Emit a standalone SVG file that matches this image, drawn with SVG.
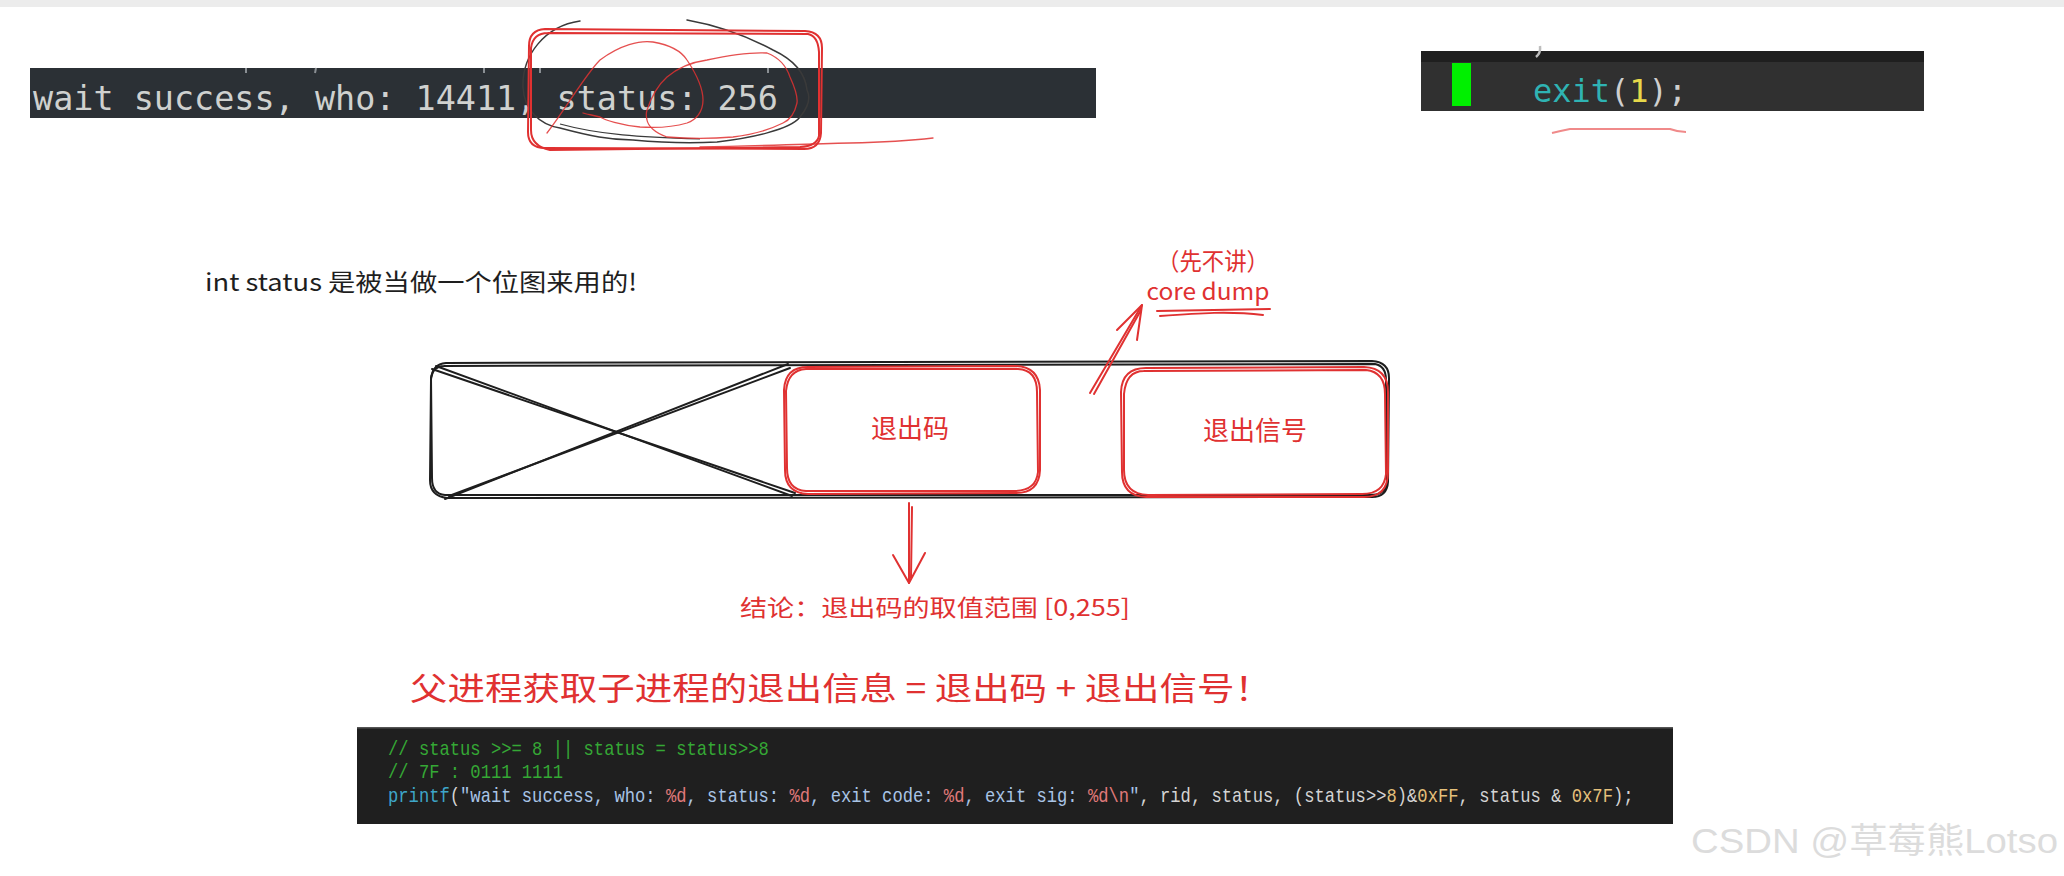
<svg xmlns="http://www.w3.org/2000/svg" width="2064" height="876" viewBox="0 0 2064 876">
<defs>
<style>
.sk{fill:none;stroke:#1e1e1e;stroke-width:2;stroke-linecap:round;stroke-linejoin:round}
.rd{fill:none;stroke:#e03131;stroke-width:2;stroke-linecap:round;stroke-linejoin:round}
.rdt{fill:none;stroke:#e03131;stroke-width:1.3;stroke-linecap:round;stroke-linejoin:round;opacity:0.85}
.hand{font-family:"Noto Sans CJK SC","Noto Sans",sans-serif}
.redtxt{fill:#e03131}
.mono{font-family:"DejaVu Sans Mono","Liberation Mono",monospace}
.code{font-family:"Liberation Mono","DejaVu Sans Mono",monospace;font-size:20px}
</style>
</defs>
<rect x="0" y="0" width="2064" height="876" fill="#ffffff"/>
<rect x="0" y="0" width="2064" height="7" fill="#ececec"/>

<g id="terminal-status">
<rect x="30" y="68" width="1066" height="50" fill="#2b3035"/>
<g stroke="#8a8f94" stroke-width="2">
<line x1="246" y1="68" x2="246" y2="73"/><line x1="316" y1="68" x2="315" y2="73"/><line x1="484" y1="68" x2="484" y2="73"/><line x1="540" y1="68" x2="540" y2="73"/><line x1="768" y1="68" x2="768" y2="73"/>
</g>
<text x="33" y="110" class="mono" font-size="34" fill="#cfd1cf" textLength="745" lengthAdjust="spacingAndGlyphs">wait success, who: 14411, status: 256</text>
</g>

<g id="scribble">
<path d="M580 21 C545 26 522 55 523 87 C524 110 540 125 560 128 C590 136 610 140 633 140 C665 143 700 143 717 142 C750 138 790 130 800 117 C810 105 810 96 807 90 C805 70 790 58 773 50 C745 35 715 25 687 20" fill="none" stroke="#3a3a3a" stroke-width="1.5" stroke-linecap="round"/>
<path d="M560 124 C600 135 640 137 700 139" fill="none" stroke="#3a3a3a" stroke-width="1.2"/>
<path d="M545 29 L805 31 Q822 32 822 48 L821 133 Q820 149 804 149 L545 148 Q528 148 528 132 L529 46 Q529 30 545 29 Z" class="rd" stroke-width="1.5"/>
<path d="M548 33 L808 34 Q818 36 819 52 L819 136 Q817 146 800 147 L550 150 Q531 146 531 130 L531 48 Q533 33 548 33" class="rd" stroke-width="1.2"/>
<path d="M547 133 C565 110 585 75 600 60 C620 45 640 40 653 42 C670 45 682 52 687 60 C697 75 703 90 703 100 C703 112 696 120 687 123 C670 128 655 128 640 127 C620 125 605 120 600 117 C592 115 586 114 583 113" class="rdt"/>
<path d="M647 110 C652 95 658 85 667 77 C680 66 693 62 707 60 C730 55 750 52 767 53 C780 58 787 68 790 77 C795 88 798 96 797 103 C795 112 790 120 783 123 C765 132 750 135 733 137 C710 139 690 139 667 137 C655 133 648 126 647 120 C646 116 646 113 647 110" class="rdt"/>
<path d="M700 147 C760 146 800 144 850 143 C890 142 915 140 933 138" class="rdt"/>
</g>

<g id="terminal-exit">
<rect x="1421" y="51" width="503" height="60" fill="#303030"/>
<rect x="1421" y="51" width="503" height="11" fill="#1f1f1f"/>
<path d="M1540 46 Q1541 53 1536 57" fill="none" stroke="#bdbdbd" stroke-width="2.5"/>
<rect x="1452" y="63" width="19" height="43" fill="#00f000"/>
<text x="1533" y="102" class="mono" font-size="32"><tspan fill="#2fb3b3">exit</tspan><tspan fill="#cfcfcf">(</tspan><tspan fill="#e6d84a">1</tspan><tspan fill="#cfcfcf">);</tspan></text>
<path d="M1552 133 Q1560 131 1570 129 L1670 129 Q1678 132 1686 132" fill="none" stroke="#f08a8a" stroke-width="2"/>
</g>

<g id="label-bitmap">
<text x="205" y="291" class="hand" font-size="24" fill="#1e1e1e" textLength="432" lengthAdjust="spacingAndGlyphs">int status 是被当做一个位图来用的!</text>
</g>

<g id="label-coredump">
<text x="1213" y="270" class="hand redtxt" font-size="24" text-anchor="middle" textLength="112" lengthAdjust="spacingAndGlyphs">（先不讲）</text>
<text x="1208" y="300" class="hand redtxt" font-size="23" text-anchor="middle" textLength="123" lengthAdjust="spacingAndGlyphs">core dump</text>
<path d="M1157 311 L1270 309" class="rd"/>
<path d="M1160 316 C1200 313 1230 311 1263 315" class="rd"/>
</g>

<g id="bitmap-bar">
<path d="M446 363 L1372 361 Q1389 362 1389 378 L1388 482 Q1387 497 1372 497 L447 498 Q430 496 430 480 L431 380 Q432 364 446 363 Z" class="sk"/>
<path d="M444 366 L1375 364 Q1386 366 1386 380 L1387 485 Q1384 495 1370 495 L445 495 Q432 494 432 478 L431 378 Q433 366 444 366" class="sk" stroke-width="1.3"/>
<path d="M432 369 L795 493" class="sk"/>
<path d="M436 366 L792 496" class="sk" stroke-width="1.3"/>
<path d="M445 499 L788 364" class="sk"/>
<path d="M449 496 L790 368" class="sk" stroke-width="1.3"/>
</g>

<g id="box-exit-code">
<path d="M808 367 L1016 366 Q1039 367 1040 390 L1040 470 Q1039 493 1016 493 L808 494 Q785 493 785 470 L784 390 Q785 367 808 367 Z" class="rd"/>
<path d="M806 369 L1018 369 Q1037 370 1037 392 L1038 472 Q1036 491 1014 491 L806 491 Q787 490 787 468 L786 391 Q788 370 806 369" class="rd" stroke-width="1.2"/>
<text x="910" y="438" class="hand redtxt" font-size="26" text-anchor="middle">退出码</text>
</g>

<g id="box-exit-signal">
<path d="M1146 368 L1364 367 Q1388 368 1388 392 L1388 472 Q1388 497 1364 497 L1146 497 Q1122 496 1122 472 L1121 392 Q1122 368 1146 368 Z" class="rd"/>
<path d="M1144 371 L1366 370 Q1385 372 1385 394 L1386 474 Q1384 494 1362 494 L1148 495 Q1124 494 1124 470 L1124 394 Q1126 371 1144 371" class="rd" stroke-width="1.2"/>
<text x="1255" y="440" class="hand redtxt" font-size="26" text-anchor="middle">退出信号</text>
</g>

<g id="connectors">
<path d="M1090 393 L1142 305" class="rd" stroke-width="2.5"/>
<path d="M1094 394 L1141 310" class="rd" stroke-width="1.5"/>
<path d="M1117 330 L1142 305 L1137 340" class="rd" stroke-width="2.5"/>
<path d="M909 503 L909 583" class="rd" stroke-width="2.5"/>
<path d="M912 507 L911 578" class="rd" stroke-width="1.2"/>
<path d="M893 555 L909 583 L925 553" class="rd" stroke-width="2.5"/>
</g>

<g id="label-conclusion">
<text x="740" y="616" class="hand redtxt" font-size="23" textLength="390" lengthAdjust="spacingAndGlyphs">结论：退出码的取值范围 [0,255]</text>
</g>

<g id="label-summary">
<text x="410" y="700" class="hand redtxt" font-size="32" textLength="862" lengthAdjust="spacingAndGlyphs">父进程获取子进程的退出信息 = 退出码 + 退出信号！</text>
</g>

<g id="code-block">
<rect x="357" y="727" width="1316" height="97" fill="#1f1f1f"/>
<rect x="357" y="727" width="1316" height="1.5" fill="#555555"/>
<g transform="translate(388,0) scale(0.858,1)" xml:space="preserve">
<text x="0" y="755" class="code" fill="#35a835">// status &gt;&gt;= 8 || status = status&gt;&gt;8</text>
<text x="0" y="778" class="code" fill="#35a835">// 7F : 0111 1111</text>
<text x="0" y="802" class="code"><tspan fill="#3ea6c9">printf</tspan><tspan fill="#d4d4d4">(</tspan><tspan fill="#a9c4e6">"wait success, who: </tspan><tspan fill="#e07a7a">%d</tspan><tspan fill="#a9c4e6">, status: </tspan><tspan fill="#e07a7a">%d</tspan><tspan fill="#a9c4e6">, exit code: </tspan><tspan fill="#e07a7a">%d</tspan><tspan fill="#a9c4e6">, exit sig: </tspan><tspan fill="#e07a7a">%d\n</tspan><tspan fill="#a9c4e6">"</tspan><tspan fill="#d4d4d4">, rid, status, (status&gt;&gt;</tspan><tspan fill="#e5c07b">8</tspan><tspan fill="#d4d4d4">)&amp;</tspan><tspan fill="#e5c07b">0xFF</tspan><tspan fill="#d4d4d4">, status &amp; </tspan><tspan fill="#e5c07b">0x7F</tspan><tspan fill="#d4d4d4">);</tspan></text>
</g>
</g>

<g id="watermark">
<text x="1691" y="853" font-family="'Liberation Sans','Noto Sans CJK SC',sans-serif" font-size="35" fill="#dcdcdc" textLength="367" lengthAdjust="spacingAndGlyphs">CSDN @草莓熊Lotso</text>
</g>
</svg>
